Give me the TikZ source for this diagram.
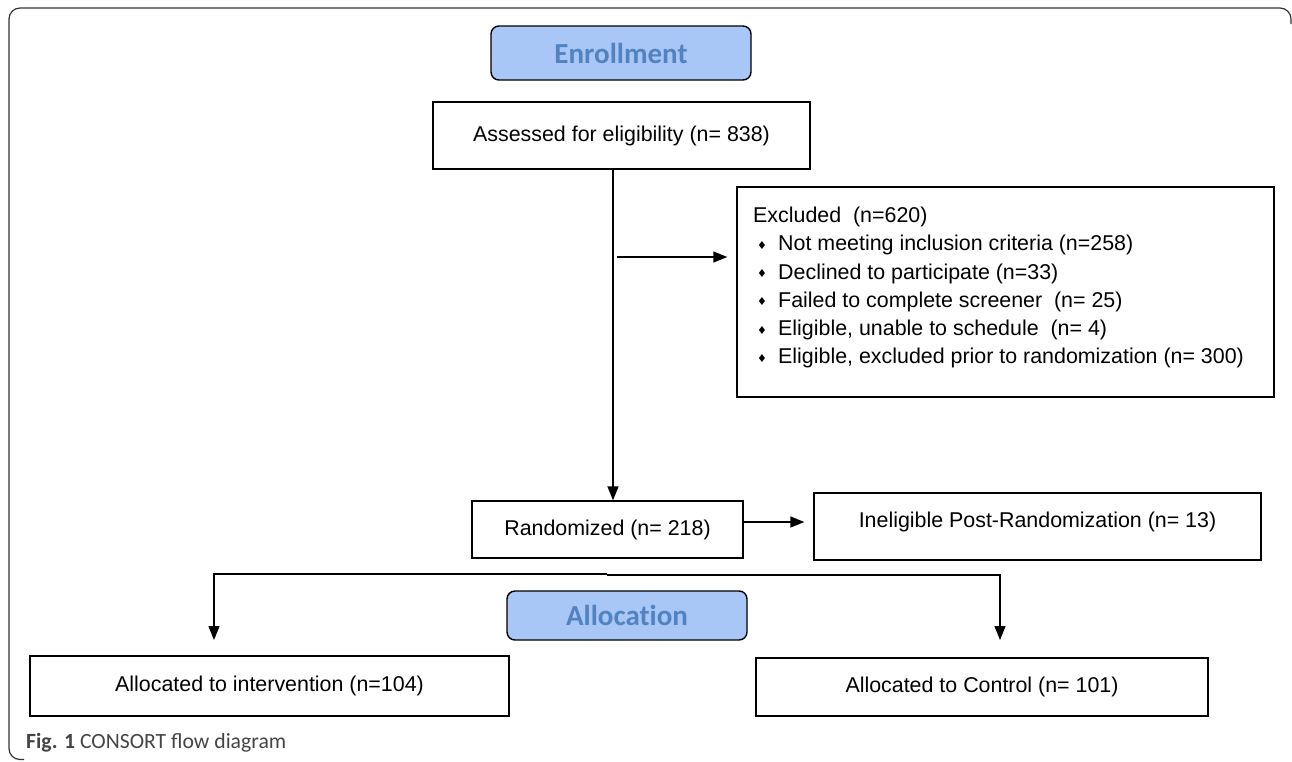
\documentclass[tikz,border=0pt]{standalone}
\usepackage{fontspec}
\setmainfont{Liberation Sans}
\newfontfamily\hdrfont[Ligatures=NoCommon]{Carlito}
\newfontfamily\capfont{Carlito}
\newfontfamily\symfont{DejaVu Sans}
\usetikzlibrary{arrows.meta,calc}
\definecolor{hdrfill}{HTML}{A8C7F7}
\definecolor{hdrtext}{HTML}{5282C0}
\definecolor{captext}{HTML}{333333}
\definecolor{capgray}{HTML}{444444}
\newcommand{\bul}{\makebox[25pt][l]{\hspace{4pt}\raisebox{1.5pt}{\symfont\fontsize{11}{11}\selectfont ♦}}}
\begin{document}
\begin{tikzpicture}[x=1pt,y=-1pt,
  box/.style={draw=black,line width=1.4pt,fill=white,inner sep=0pt,
    font=\fontsize{21.4}{25}\selectfont},
  hdr/.style={draw=black,line width=1.4pt,fill=hdrfill,rounded corners=8pt,inner sep=0pt,
    text=hdrtext,font=\hdrfont\bfseries\fontsize{29}{32}\selectfont},
  arr/.style={line width=1.4pt,-{Triangle[length=14pt,width=11pt]}},
  ln/.style={line width=1.4pt}]
\useasboundingbox (0,0) rectangle (1292,761);
% frame
\draw[line width=1.2pt,draw=captext,rounded corners=11pt] (24,759.5) -- (9,759.5) -- (9,8) -- (1291,8) -- (1291,24);
% header boxes
\node[hdr,minimum width=260pt,minimum height=54pt] (enr) at (621,53) {Enrollment};
\node[hdr,minimum width=240pt,minimum height=49pt] (alloc) at (627,615.5) {Allocation};
% boxes
\node[box,minimum width=377pt,minimum height=67pt] (assess) at (621.5,135.5) {Assessed for eligibility (n= 838)};
\node[box,minimum width=537pt,minimum height=210pt] (excl) at (1005.5,292) {};
\node[anchor=north west,inner sep=0pt,align=left,font=\fontsize{21.4}{28.2}\selectfont] (excltext) at (753,207)
  {Excluded\ \ (n=620)\\
   \bul Not meeting inclusion criteria (n=258)\\
   \bul Declined to participate (n=33)\\
   \bul Failed to complete screener\ \ (n= 25)\\
   \bul Eligible, unable to schedule\ \ (n= 4)\\
   \bul Eligible, excluded prior to randomization (n= 300)};
\node[box,minimum width=271pt,minimum height=57pt] (rand) at (607.5,529.5) {Randomized (n= 218)};
\node[box,minimum width=447pt,minimum height=67pt] (inel) at (1037.5,526.5) {};
\node[inner sep=0pt,font=\fontsize{21.4}{25}\selectfont] (ineltext) at (1037.5,522) {Ineligible Post-Randomization (n= 13)};
\node[box,minimum width=479pt,minimum height=60pt] (interv) at (269.5,686) {Allocated to intervention (n=104)};
\node[box,minimum width=452pt,minimum height=58pt] (ctrl) at (982,687) {Allocated to Control (n= 101)};
% connectors
\coordinate (vx) at (613,0);
\coordinate (exa) at (617,257);
\coordinate (split) at (607,574);
\coordinate (lt) at (214,640);
\coordinate (rt) at (1000,640);
\draw[arr] (assess.south -| vx) -- (rand.north -| vx);
\draw[arr] (exa) -- ($(exa -| excl.west)+(-9,0)$);
\draw[arr] (rand.east |- ineltext) -- ($(inel.west |- ineltext)+(-9,0)$);
\draw[arr] (split) -| (lt);
\draw[arr] ($(split)+(0,1)$) -| (rt);
% caption
\node[anchor=base west,inner sep=0pt,text=capgray,font=\capfont\fontsize{21.7}{24}\selectfont] (cap) at (26,748) {\textbf{Fig. 1} CONSORT flow diagram};
\end{tikzpicture}
\end{document}
